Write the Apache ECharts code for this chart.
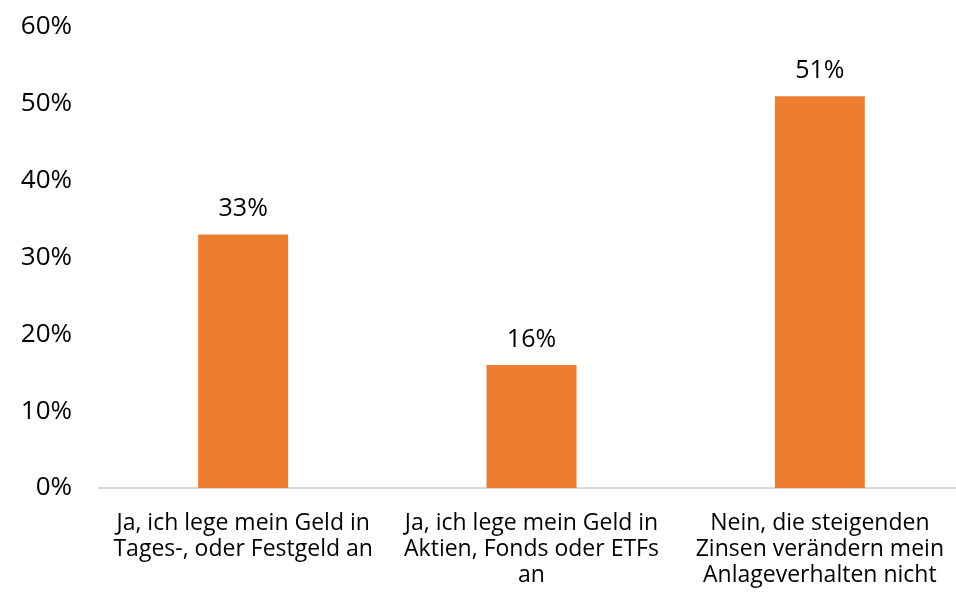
<!DOCTYPE html>
<html>
<head>
<meta charset="utf-8">
<script src="https://cdn.jsdelivr.net/npm/echarts@6/dist/echarts.min.js"></script>
<style>
  html, body { margin: 0; padding: 0; background: #fff; }
  #chart { width: 956px; height: 599px; }
</style>
</head>
<body>
<div id="chart"></div>
<script>
// categories (line breaks as in the picture)
const categories = [
  'Ja, ich lege mein Geld in\nTages-, oder Festgeld an',
  'Ja, ich lege mein Geld in\nAktien, Fonds oder ETFs\nan',
  'Nein, die steigenden\nZinsen verändern mein\nAnlageverhalten nicht'
]
const values = [33, 16, 51]
const yTicks = [0, 10, 20, 30, 40, 50, 60]

const fontName = 'Open Sans'
let chart = echarts.init(document.getElementById('chart'))
chart.setOption({
  animation: false,
  grid: { left: 99, right: -8, top: 27, bottom: 111, outerBoundsMode: 'none', containLabel: false },
  xAxis: {
    type: 'category',
    data: categories,
    axisLine: { lineStyle: { color: '#d9d9d9', width: 2 } },
    axisTick: { show: false },
    axisLabel: {
      color: '#000', fontFamily: fontName, fontSize: 23, lineHeight: 26,
      margin: 22, interval: 0
    }
  },
  yAxis: {
    type: 'value',
    min: yTicks[0],
    max: yTicks[yTicks.length - 1],
    interval: 10,
    axisLine: { show: false },
    axisTick: { show: false },
    splitLine: { show: false },
    axisLabel: {
      color: '#000', fontFamily: fontName, fontSize: 26, margin: 27,
      formatter: v => v + '%'
    }
  },
  series: [{
    type: 'bar',
    data: values,
    barWidth: 90,
    itemStyle: { color: '#ed7d31' },
    label: {
      show: true, position: 'top', distance: 13,
      color: '#000', fontFamily: fontName, fontSize: 25,
      formatter: p => p.value + '%'
    }
  }]
})
</script>
</body>
</html>
